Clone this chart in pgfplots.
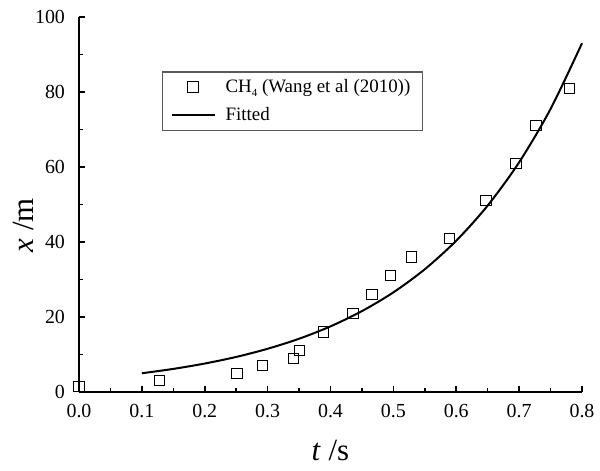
\documentclass[border=0pt]{standalone}
\usepackage{fontspec}
\setmainfont{Liberation Serif}
\usepackage{pgfplots}
\pgfplotsset{compat=1.18}

% legend images: a single centred mark, and a plain line
\pgfplotsset{
  marklegend/.style={legend image code/.code={\draw[##1] plot coordinates {(10.75bp,0bp)};}},
  linelegend/.style={legend image code/.code={\draw[##1] (0bp,0bp) -- (21.5bp,0bp);}},
}

% measured positions of the front (t in s, x in m)
\pgfplotstableread{
t      x
0.000  1.5
0.128  3
0.251  5
0.292  7
0.341  9
0.351  11
0.389  16
0.436  21
0.466  26
0.495  31
0.529  36
0.589  41
0.647  51
0.695  61
0.727  71
0.780  81
}\measured

% fitted curve
\pgfplotstableread{
t      x
0.10   5.00
0.15   6.16
0.20   7.59
0.25   9.35
0.30   11.53
0.35   14.20
0.40   17.50
0.45   21.57
0.50   26.57
0.55   32.74
0.60   40.35
0.65   49.72
0.70   61.26
0.75   75.48
0.80   93.00
}\fitted

\begin{document}
\begin{tikzpicture}
\begin{axis}[
  scale only axis,
  width=251.5bp, height=187.5bp,
  xmin=0, xmax=0.8, ymin=0, ymax=100,
  axis x line=bottom, axis y line=left,
  axis line style={line width=1bp, -},
  xtick={0,0.1,...,0.8}, ytick={0,20,...,100},
  minor tick num=1,
  tick align=inside,
  major tick length=3bp, minor tick length=1.8bp,
  tick style={line width=0.8bp, black},
  /pgf/number format/assume math mode=true,
  ticklabel style={font=\fontsize{10}{12}\selectfont},
  xticklabel style={yshift=-2.5bp, /pgf/number format/.cd, fixed, fixed zerofill, precision=1},
  yticklabel style={xshift=-3.5bp},
  xlabel={\textit{t} /s},
  ylabel={\textit{x} /m},
  label style={font=\fontsize{15.5}{18}\selectfont},
  xlabel style={at={(axis description cs:0.5,0)}, anchor=base, yshift=-34bp},
  ylabel style={at={(axis description cs:0,0.445)}, anchor=base, yshift=23bp},
  clip=false,
  legend cell align=left,
  legend style={
    at={(axis description cs:0.165,0.855)}, anchor=north west,
    draw=black!65, line width=0.6bp,
    font=\fontsize{9.5}{11}\selectfont,
    inner xsep=4bp, inner ysep=1.5bp,
    row sep=2bp, column sep=3bp,
  },
]
\addplot[only marks, mark=square, mark size=2.6bp, mark options={line width=0.5bp, black}, marklegend]
  table[x=t, y=x] {\measured};
\addlegendentry{CH\raisebox{-0.45ex}{\fontsize{5.5}{6}\selectfont 4} (Wang et al (2010))}
\addplot[black, line width=1bp, smooth, no marks, linelegend]
  table[x=t, y=x] {\fitted};
\addlegendentry{Fitted}
\end{axis}
\pgfresetboundingbox
\useasboundingbox ([shift={(-39.5bp,-39.5bp)}]current axis.south west) rectangle ++(300bp,235.5bp);
\end{tikzpicture}
\end{document}
